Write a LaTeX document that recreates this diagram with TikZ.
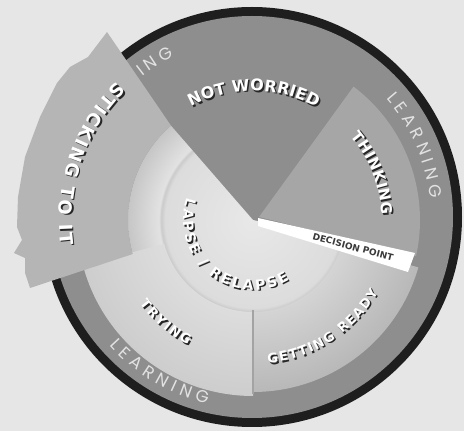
\documentclass[tikz,border=0pt]{standalone}
\usepackage{fontspec}
\newfontfamily\heavy{DejaVu Sans}
\newfontfamily\lightf{Poppins}
\usetikzlibrary{decorations.text}
\definecolor{bg}{HTML}{E6E6E6}
\definecolor{rim}{HTML}{1E1E1E}
\definecolor{ringc}{HTML}{8E8E8E}
\definecolor{stick}{HTML}{B5B5B5}
\definecolor{think}{HTML}{A6A6A6}
\definecolor{learn}{HTML}{E2E2E2}
\definecolor{txtshadow}{HTML}{262626}
\definecolor{dpc}{HTML}{3A3A3A}
\definecolor{divc}{HTML}{A3A3A3}
\definecolor{tryA}{HTML}{EEEEEE}
\definecolor{tryB}{HTML}{CDCDCD}
\definecolor{grA}{HTML}{F4F4F4}
\definecolor{grB}{HTML}{B8B8B8}
\definecolor{hubA}{HTML}{E8E8E8}
\definecolor{hubB}{HTML}{DCDCDC}
\definecolor{hubE}{HTML}{CACACA}
\definecolor{hubC}{HTML}{E2E2E2}
\definecolor{hubD}{HTML}{C6C6C6}
\pgfdeclareradialshading{hubshade}{\pgfpoint{0bp}{0bp}}{color(0bp)=(hubA); color(17.6bp)=(hubB); color(18.4bp)=(hubE); color(18.8bp)=(hubC); color(25bp)=(hubD); color(50bp)=(hubD)}
% #1 centre, #2 radius, #3 start angle, #4 end angle, #5 font, #6 colour, #7 text, #8 offset
\newcommand{\arcfit}[8]{\path[decorate,decoration={text along path,text align=fit to path,text color=#6,text={|#5|#7}}] ([shift={(#3:#2)},shift={#8}]#1) arc[start angle=#3,end angle=#4,radius=#2];}
% white bold text with dark drop shadow
\newcommand{\bigarc}[6]{%
  \arcfit{#1}{#2}{#3}{#4}{\heavy\bfseries\fontsize{#5}{#5}\selectfont}{txtshadow}{#6}{(1.5,-1.5)}%
  \arcfit{#1}{#2}{#3}{#4}{\heavy\bfseries\fontsize{#5}{#5}\selectfont}{white}{#6}{(0,0)}}
\newcommand{\learnarc}[4]{\arcfit{#1}{#2}{#3}{#4}{\lightf\fontsize{17}{17}\selectfont}{learn}{LEARNING}{(0,0)}}
\tikzset{
  rimfill/.style={fill=rim},
  ringfill/.style={fill=ringc},
  notwfill/.style={fill=ringc},
  stickfill/.style={fill=stick},
  thinkfill/.style={fill=think},
  bandfill/.style={fill=white},
  divider/.style={draw=divc,line width=2.5pt},
  decision/.style={font=\heavy\bfseries\fontsize{9}{9}\selectfont,text=dpc,inner sep=0pt}
}
\begin{document}
\begin{tikzpicture}[x=1pt,y=1pt]
\useasboundingbox (0,0) rectangle (464,431);
\fill[bg] (0,0) rectangle (464,431);
\coordinate (O) at (252,214);
\coordinate (S) at (253,211);
% outer rim and learning ring
\fill[rimfill] (O) circle (210);
\fill[ringfill] (O) circle (201);
\learnarc{O}{179}{41.5}{6}
\learnarc{O}{192}{222}{256.5}
\learnarc{O}{178}{151.3}{115.8}
% not worried
\fill[notwfill] (S) -- ([shift={(-12.5:168)}]S) arc[start angle=-12.5,end angle=131,radius=168] -- cycle;
% hub
\begin{scope}
  \clip (S) -- ([shift={(131:130)}]S) arc[start angle=131,end angle=347,radius=130] -- cycle;
  \shade[shading=hubshade] (S) circle (125);
\end{scope}
% trying
\begin{scope}
  \clip ([shift={(195:92)}]S) arc[start angle=195,end angle=270,radius=92] -- ([shift={(270:176)}]S) arc[start angle=270,end angle=195,radius=176] -- cycle;
  \shade[inner color=tryA,outer color=tryB] (S) circle (176);
\end{scope}
% getting ready
\begin{scope}
  \clip ([shift={(270:92)}]S) arc[start angle=270,end angle=344,radius=92] -- ([shift={(344:172)}]S) arc[start angle=344,end angle=270,radius=172] -- cycle;
  \shade[inner color=grA,outer color=grB] (S) circle (172);
\end{scope}
% sticking to it
\fill[stickfill] ([shift={(131:125)}]S) -- (107,399) -- (88,374) -- (70,364) -- (57,348) -- (40,314) -- (25,274) -- (18,234) -- (17,204) -- (22,191) -- (14,178) -- (25,173) -- (25,158) -- (30,143) -- ([shift={(195.8:125)}]S) arc[start angle=195.8,end angle=131,radius=125] -- cycle;
% thinking
\fill[thinkfill] (259,214) -- ([shift={(53:167)}]S) arc[start angle=53,end angle=-12.5,radius=167] -- cycle;
% decision point band
\fill[bandfill] (258,213) -- (415,178) -- (408,159) -- (258,205) -- cycle;
\node[decision,rotate=-15] (dp) at (353,184) {DECISION POINT};
% divider trying / getting ready
\draw[divider] ([shift={(270:90)}]S) -- ([shift={(270:174)}]S);
% labels
\bigarc{S}{129}{118.7}{60.6}{16}{NOT WORRIED}
\bigarc{S}{128.5}{40.6}{2.3}{15}{THINKING}
\bigarc{S}{194}{134.5}{187.5}{18}{STICKING TO IT}
\bigarc{S}{70}{161}{301}{14}{LAPSE / RELAPSE}
\bigarc{S}{141}{216.5}{242.5}{13}{TRYING}
\bigarc{S}{144.5}{276}{330}{13}{GETTING READY}
\end{tikzpicture}
\end{document}
